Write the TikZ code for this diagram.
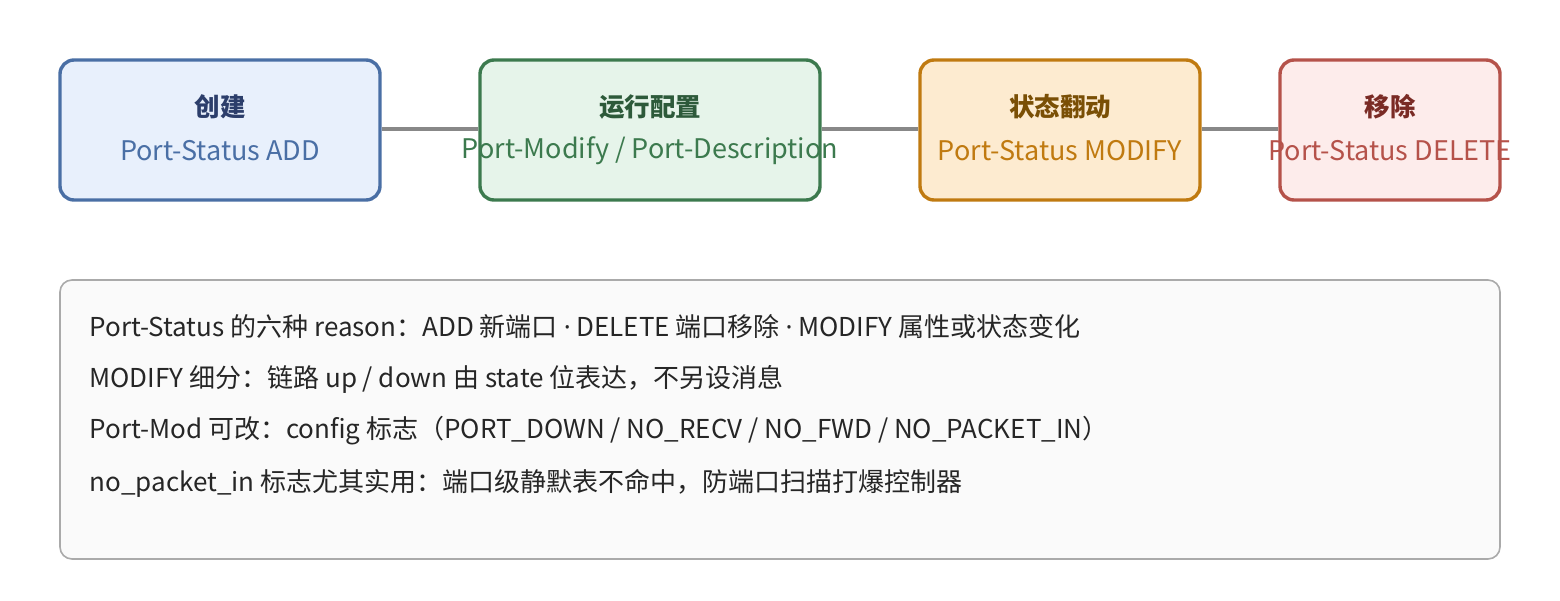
\documentclass[tikz,border=0pt]{standalone}
\usepackage{fontspec}
\setmainfont{Noto Sans CJK SC}
\newfontfamily\latinf{Noto Sans}
\begin{document}
\begin{tikzpicture}[x=1pt,y=-1pt,
  stage/.style={draw, line width=3.4pt, rounded corners=14pt},
  ttl/.style={font=\fontsize{25.5}{30}\selectfont\bfseries, anchor=center},
  sub/.style={font=\fontsize{27}{32}\selectfont, anchor=center},
  bodyline/.style={font=\fontsize{26}{30}\selectfont, anchor=west, text=black!85}
]
\definecolor{b1f}{HTML}{E8F0FC}\definecolor{b1s}{HTML}{4A6FA5}\definecolor{b1t}{HTML}{2C3E6B}
\definecolor{b2f}{HTML}{E6F4EA}\definecolor{b2s}{HTML}{3C7A4E}\definecolor{b2t}{HTML}{2D5A3A}
\definecolor{b3f}{HTML}{FDEBD0}\definecolor{b3s}{HTML}{C07A10}\definecolor{b3t}{HTML}{7A4F05}
\definecolor{b4f}{HTML}{FDECEB}\definecolor{b4s}{HTML}{B5524A}\definecolor{b4t}{HTML}{7A2B25}
\definecolor{panelf}{HTML}{FAFAFA}\definecolor{panels}{HTML}{AAAAAA}
\definecolor{linkc}{HTML}{888888}
\tikzset{link/.style={draw=linkc, line width=3.4pt}}
\useasboundingbox (0,0) rectangle (1560,600);
\fill[white] (0,0) rectangle (1560,600);
% stage boxes
\node[stage, draw=b1s, fill=b1f, minimum width=320pt, minimum height=140pt] (s1) at (220,130) {};
\node[stage, draw=b2s, fill=b2f, minimum width=340pt, minimum height=140pt] (s2) at (650,130) {};
\node[stage, draw=b3s, fill=b3f, minimum width=280pt, minimum height=140pt] (s3) at (1060,130) {};
\node[stage, draw=b4s, fill=b4f, minimum width=220pt, minimum height=140pt] (s4) at (1390,130) {};
% connectors
\draw[link] ([yshift=1pt]s1.east) -- ([yshift=1pt]s2.west);
\draw[link] ([yshift=1pt]s2.east) -- ([yshift=1pt]s3.west);
\draw[link] ([yshift=1pt]s3.east) -- ([yshift=1pt]s4.west);
% titles
\node[ttl, text=b1t] (t1) at (220,107) {创建};
\node[ttl, text=b2t] (t2) at (650,107) {运行配置};
\node[ttl, text=b3t] (t3) at (1060,107) {状态翻动};
\node[ttl, text=b4t] (t4) at (1390,107) {移除};
\node[sub, text=b1s] (u1) at (220,151) {Port-Status ADD};
\node[sub, text=b2s] (u2) at (650,151) {Port-Modify / Port-Description};
\node[sub, text=b3s] (u3) at (1060,151) {Port-Status MODIFY};
\node[sub, text=b4s] (u4) at (1390,151) {Port-Status DELETE};
% panel
\node[draw=panels, fill=panelf, line width=1.6pt, rounded corners=12pt, minimum width=1440pt, minimum height=279pt] (panel) at (780,419.5) {};
\node[bodyline] (l1) at (86,327) {Port-Status 的六种 reason：ADD 新端口 {\latinf·} DELETE 端口移除 {\latinf·} MODIFY 属性或状态变化};
\node[bodyline] (l2) at (86,379) {MODIFY 细分：链路 up / down 由 state 位表达，不另设消息};
\node[bodyline] (l3) at (86,431) {Port-Mod 可改：config 标志（PORT\_DOWN / NO\_RECV / NO\_FWD / NO\_PACKET\_IN）};
\node[bodyline] (l4) at (86,483) {no\_packet\_in 标志尤其实用：端口级静默表不命中，防端口扫描打爆控制器};
\end{tikzpicture}
\end{document}
